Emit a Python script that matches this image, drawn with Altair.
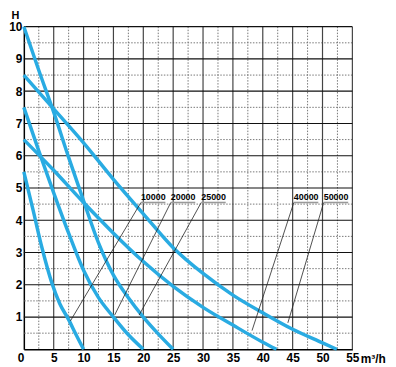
import altair as alt
import pandas as pd

FONT = "Liberation Sans"

# pump curves: flow Q (m3/h) and head H (m)
series = ["10000", "20000", "25000", "40000", "50000"]
q_10000 = [0, 1.5, 3.1, 4.7, 6.0, 7.5, 8.75, 10.0]
h_10000 = [5.5, 4.35, 3.1, 2.05, 1.42, 0.92, 0.45, 0.0]
q_20000 = [0, 2.5, 5.0, 7.5, 10.0, 12.5, 15.0, 17.5, 20.0]
h_20000 = [7.5, 6.15, 4.85, 3.6, 2.45, 1.6, 1.0, 0.45, 0.0]
q_25000 = [0, 2.5, 5.0, 7.5, 10.0, 12.5, 15.0, 17.5, 20.0, 22.5, 25.0]
h_25000 = [10.0, 8.65, 7.35, 5.95, 4.6, 3.3, 2.3, 1.6, 1.0, 0.48, 0.0]
q_40000 = [0, 5.0, 10.0, 15.0, 20.0, 25.0, 30.0, 35.0, 40.0, 42.3]
h_40000 = [6.5, 5.55, 4.55, 3.6, 2.72, 1.95, 1.3, 0.75, 0.22, 0.0]
q_50000 = [0, 5.0, 10.0, 15.0, 20.0, 25.0, 30.0, 35.0, 40.0, 45.0, 50.0, 52.4]
h_50000 = [8.5, 7.45, 6.4, 5.27, 4.2, 3.15, 2.35, 1.68, 1.13, 0.62, 0.2, 0.0]

# annotation labels with leader lines
label_x = [19.6, 24.6, 29.7, 45.2, 50.2]
label_w = 4.1
label_y = 4.63
underline_y = 4.55
leader_end_x = [7.8, 15.2, 19.3, 38.2, 44.2]
leader_end_y = [0.88, 1.06, 1.06, 0.58, 0.82]

# axes and grid
x_ticks = [0, 5, 10, 15, 20, 25, 30, 35, 40, 45, 50, 55]
y_ticks = [1, 2, 3, 4, 5, 6, 7, 8, 9, 10]
major_x = [5, 10, 15, 20, 25, 30, 35, 40, 45, 50, 55]
major_y = [1, 2, 3, 4, 5, 6, 7, 8, 9, 10]
minor_x = [2.5, 7.5, 12.5, 17.5, 22.5, 27.5, 32.5, 37.5, 42.5, 47.5, 52.5]
minor_y = [0.5, 1.5, 2.5, 3.5, 4.5, 5.5, 6.5, 7.5, 8.5, 9.5]

qs = [q_10000, q_20000, q_25000, q_40000, q_50000]
hs = [h_10000, h_20000, h_25000, h_40000, h_50000]
rows = []
for s, q, h in zip(series, qs, hs):
    for i, (a, b) in enumerate(zip(q, h)):
        rows.append({"series": s, "q": a, "h": b, "i": i})
curves = pd.DataFrame(rows)

ann = pd.DataFrame({
    "label": series,
    "lx": label_x,
    "lx2": [v + label_w for v in label_x],
    "ty": [label_y] * 5,
    "uy": [underline_y] * 5,
    "ex": leader_end_x,
    "ey": leader_end_y,
})

xs = alt.Scale(domain=[0, 55], nice=False, zero=False)
ys = alt.Scale(domain=[0, 10], nice=False, zero=False)

x_axis = alt.Axis(
    values=x_ticks, grid=False, ticks=False, domain=True, domainColor="black",
    domainWidth=1.5, labelFont=FONT, labelFontWeight="bold", labelFontSize=12,
    labelColor="black", labelPadding=3, labelFlush=False,
    labelAlign={"expr": "datum.value == 0 ? 'right' : 'center'"},
    title="m³/h", titleFont=FONT, titleFontWeight="bold", titleFontSize=12,
    titleColor="black", titleX=340, titleY=13.5, titleAlign="left",
    titleBaseline="alphabetic", titleAnchor="start",
)
y_axis = alt.Axis(
    values=y_ticks, grid=False, ticks=False, domain=True, domainColor="black",
    domainWidth=1.5, labelFont=FONT, labelFontWeight="bold", labelFontSize=12,
    labelColor="black", labelPadding=2, labelFlush=False,
    title="H", titleFont=FONT, titleFontWeight="bold", titleFontSize=11,
    titleColor="black", titleAngle=0, titleX=-9, titleY=-8.5, titleAlign="center",
    titleBaseline="alphabetic", titleAnchor="start",
)


def X(field):
    return alt.X(field, scale=xs, axis=x_axis)


def Y(field):
    return alt.Y(field, scale=ys, axis=y_axis)


minor_v = alt.Chart(pd.DataFrame({"x": minor_x})).mark_rule(
    color="#777", strokeWidth=1, strokeDash=[1.5, 1.5]
).encode(x=X("x:Q"))
minor_h = alt.Chart(pd.DataFrame({"y": minor_y})).mark_rule(
    color="#777", strokeWidth=1, strokeDash=[1.5, 1.5]
).encode(y=Y("y:Q"))
major_v = alt.Chart(pd.DataFrame({"x": major_x})).mark_rule(
    color="#444", strokeWidth=1.2
).encode(x=X("x:Q"))
major_h = alt.Chart(pd.DataFrame({"y": major_y})).mark_rule(
    color="#111", strokeWidth=1.2
).encode(y=Y("y:Q"))

lines = alt.Chart(curves).mark_line(
    interpolate="monotone", color="#29abe2", strokeWidth=3.5, strokeCap="butt"
).encode(
    x=X("q:Q"),
    y=Y("h:Q"),
    detail="series:N",
    order="i:Q",
)

leaders = alt.Chart(ann).mark_rule(color="#222", strokeWidth=0.8).encode(
    x=X("lx:Q"), y=Y("uy:Q"), x2="ex:Q", y2="ey:Q",
)
underlines = alt.Chart(ann).mark_rule(color="#999", strokeWidth=1.6).encode(
    x=X("lx:Q"), x2="lx2:Q", y=Y("uy:Q"),
)
labels = alt.Chart(ann).mark_text(
    align="left", baseline="alphabetic", font=FONT, fontWeight="bold",
    fontSize=9, color="black",
).encode(
    x=X("lx:Q"), y=Y("ty:Q"), text="label:N",
)

chart = alt.layer(
    minor_v, minor_h, major_v, major_h, lines, leaders, underlines, labels
).properties(
    width=332, height=326,
    padding={"left": 16, "top": 17, "right": 36, "bottom": 15},
    autosize=alt.AutoSizeParams(type="none"),
).configure_view(stroke=None)

chart.save("out.html", embed_options={"renderer": "svg", "actions": False})
